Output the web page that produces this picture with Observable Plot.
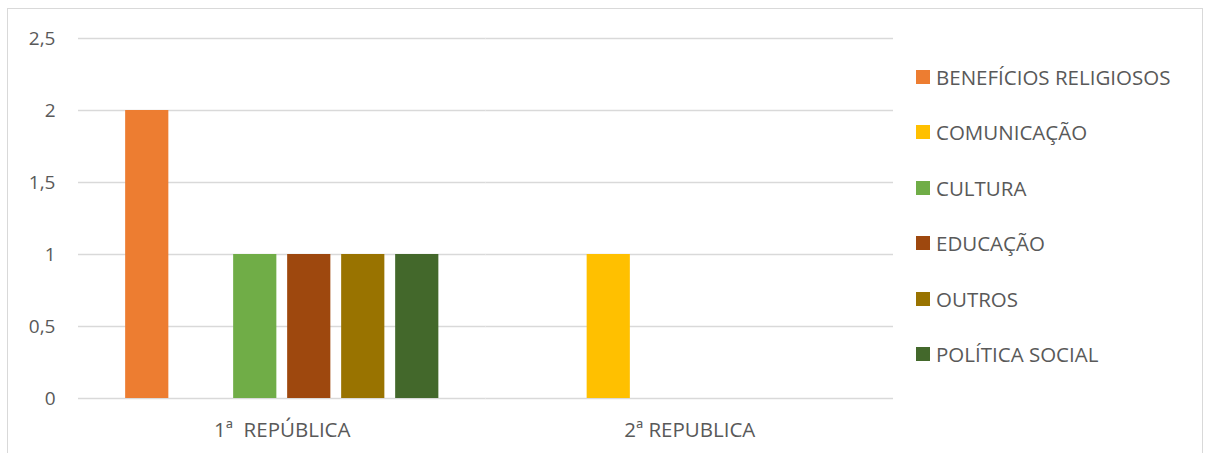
<!DOCTYPE html>
<html>
<head>
<meta charset="utf-8">
<script src="https://cdn.jsdelivr.net/npm/d3@7"></script>
<script src="https://cdn.jsdelivr.net/npm/@observablehq/plot@0.6"></script>
<style>
  body { margin: 0; background: #fff; }
  #wrap { position: relative; width: 1205px; height: 453px; overflow: hidden; font-family: "Open Sans", sans-serif; color: #595959; }
  #frame { position: absolute; left: 7px; top: 8px; width: 1196px; height: 470px; border: 1px solid #d9d9d9; box-sizing: border-box; }
  #chart { position: absolute; left: 0; top: 0; }
  .item { position: absolute; left: 916px; height: 24px; line-height: 24px; font-size: 20.5px; white-space: nowrap; display: flex; align-items: center; }
  .sw { width: 14px; height: 14px; margin-right: 6px; flex: none; }
</style>
</head>
<body>
<div id="wrap">
  <div id="frame"></div>
  <div id="chart"></div>
  <div id="legend"></div>
</div>
<script>
const groups = ["1ª  REPÚBLICA", "2ª REPUBLICA"];
const series = ["BENEFÍCIOS RELIGIOSOS", "COMUNICAÇÃO", "CULTURA", "EDUCAÇÃO", "OUTROS", "POLÍTICA SOCIAL"];
const valuesRep1 = [2, 0, 1, 1, 1, 1];
const valuesRep2 = [0, 1, 0, 0, 0, 0];
const colors = ["#ED7D31", "#FFC000", "#70AD47", "#9E480E", "#997300", "#43682B"];
const yTicks = [0, 0.5, 1, 1.5, 2, 2.5];

const allValues = [valuesRep1, valuesRep2];
const data = groups.flatMap((g, i) => series.map((s, j) => ({group: g, series: s, value: allValues[i][j]})));

const chart = Plot.plot({
  width: 900,
  height: 453,
  marginLeft: 78,
  marginRight: 7,
  marginTop: 38,
  marginBottom: 55,
  style: {fontFamily: "'Open Sans', sans-serif", fontSize: "19px", color: "#595959", background: "transparent"},
  fx: {domain: groups, padding: 0, round: false, label: null},
  x: {domain: series, paddingInner: 0.2, paddingOuter: 0.873, round: false, axis: null},
  y: {domain: [0, 2.5], label: null},
  color: {domain: series, range: colors},
  marks: [
    Plot.ruleY(yTicks, {stroke: "#d9d9d9", strokeWidth: 1.5}),
    Plot.barY(data, {fx: "group", x: "series", y: "value", fill: "series"}),
    Plot.axisY({ticks: yTicks, tickSize: 0, tickPadding: 23, fontSize: 19, tickFormat: d => String(d).replace(".", ","), fill: "#595959", label: null}),
    Plot.axisFx({anchor: "bottom", tickSize: 0, tickPadding: 24, fontSize: 20.5, tickFormat: d => d.replace("  ", "\u00a0 "), fill: "#595959", label: null})
  ]
});
document.getElementById("chart").appendChild(chart);

const legend = document.getElementById("legend");
const centers0 = 77, step = 55.4;
series.forEach((s, i) => {
  const it = document.createElement("div");
  it.className = "item";
  it.style.top = (centers0 + i * step - 12) + "px";
  const sw = document.createElement("span");
  sw.className = "sw";
  sw.style.background = colors[i];
  const t = document.createElement("span");
  t.textContent = s;
  it.appendChild(sw);
  it.appendChild(t);
  legend.appendChild(it);
});
</script>
</body>
</html>
